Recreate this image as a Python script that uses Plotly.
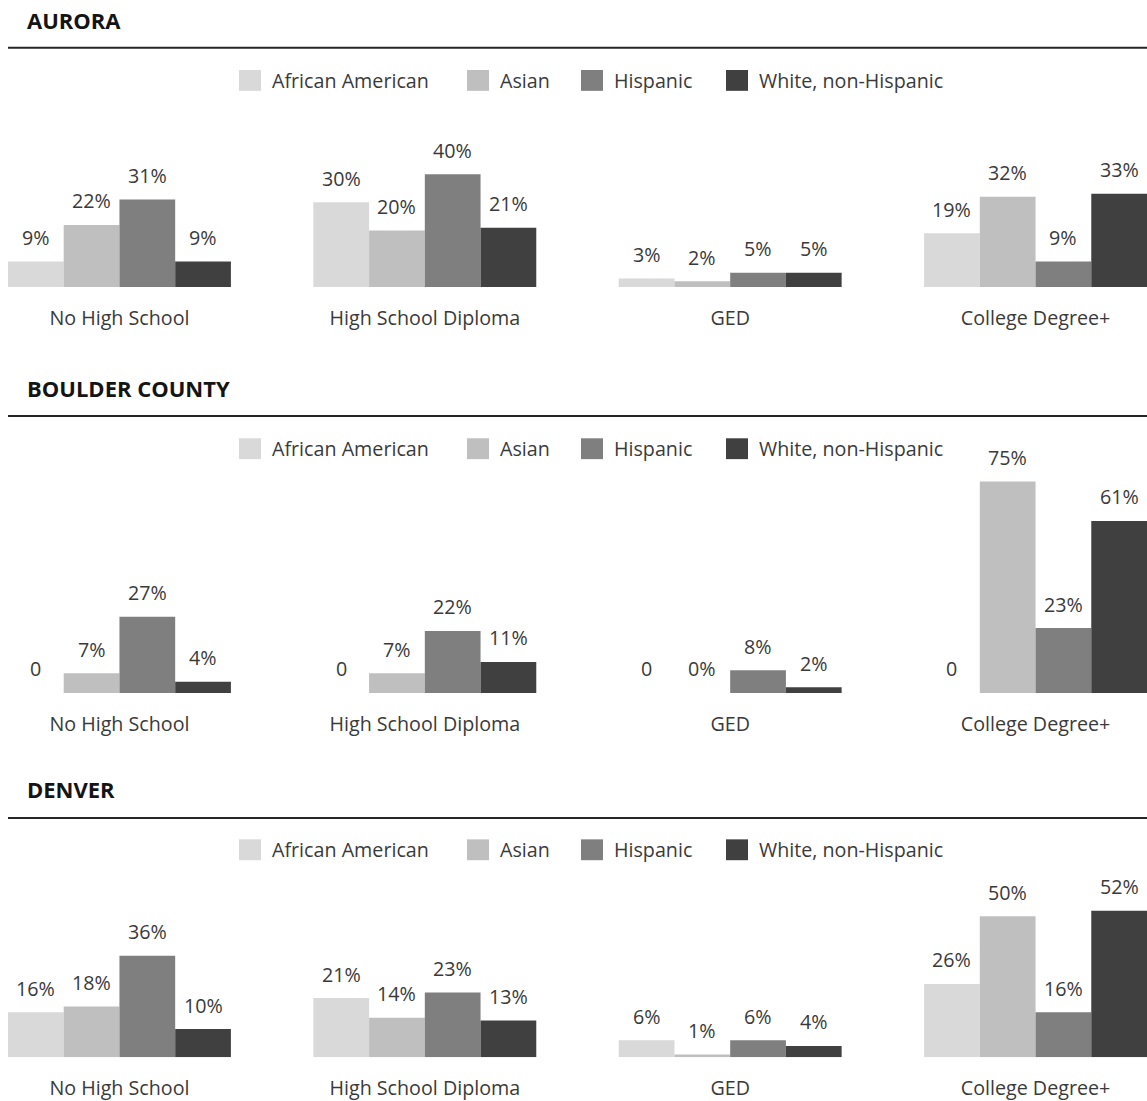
import plotly.graph_objects as go

W, H = 1147, 1101

categories = ["No High School", "High School Diploma", "GED", "College Degree+"]
groups = ["African American", "Asian", "Hispanic", "White, non-Hispanic"]
panel_titles = ["AURORA", "BOULDER COUNTY", "DENVER"]

aurora_african_american = [9, 30, 3, 19]
aurora_asian = [22, 20, 2, 32]
aurora_hispanic = [31, 40, 5, 9]
aurora_white = [9, 21, 5, 33]

# Boulder County has no African American figures; those are printed as "0"
boulder_african_american = [None, None, None, None]
boulder_asian = [7, 7, 0, 75]
boulder_hispanic = [27, 22, 8, 23]
boulder_white = [4, 11, 2, 61]

denver_african_american = [16, 21, 6, 26]
denver_asian = [18, 14, 1, 50]
denver_hispanic = [36, 23, 6, 16]
denver_white = [10, 13, 4, 52]

panels = [
    [aurora_african_american, aurora_asian, aurora_hispanic, aurora_white],
    [boulder_african_american, boulder_asian, boulder_hispanic, boulder_white],
    [denver_african_american, denver_asian, denver_hispanic, denver_white],
]

colors = ["#d9d9d9", "#bfbfbf", "#7f7f7f", "#404040"]
FONT = "Open Sans"
TEXT = "#3a3a3a"
FS = 19.7

# layout of each panel in pixels: title row, rule, legend row, bar baseline, y max
layout_px = [
    dict(title=20, rule=48, legend=81, base=289, ymax=55),
    dict(title=391, rule=419, legend=452, base=698, ymax=80),
    dict(title=795, rule=824, legend=856, base=1065, ymax=55),
]
PX_PER_UNIT = 2.84
LEFT = 8
BARGAP = 0.27
legend_x = [239, 467, 581, 726]
SQ_W, SQ_H = 22, 21


def py(p):
    return 1 - p / H


fig = go.Figure()
shapes = []
annotations = []
slot = (1 - BARGAP) / len(groups)

for p, (series, geo) in enumerate(zip(panels, layout_px)):
    ax = "" if p == 0 else str(p + 1)
    xref, yref = "x" + ax, "y" + ax
    for k, (name, vals) in enumerate(zip(groups, series)):
        fig.add_trace(go.Bar(
            x=categories,
            y=[v if v is not None else 0 for v in vals],
            name=name,
            marker=dict(color=colors[k], line=dict(width=0)),
            xaxis=xref, yaxis=yref,
            showlegend=False,
            hoverinfo="skip",
        ))
        for i, v in enumerate(vals):
            annotations.append(dict(
                x=i + (k - 1.5) * slot, y=v if v is not None else 0,
                xref=xref, yref=yref,
                text=f"{v}%" if v is not None else "0",
                showarrow=False, yshift=24, yanchor="middle",
                font=dict(family=FONT, size=FS, color=TEXT),
            ))

    top = geo["base"] - geo["ymax"] * PX_PER_UNIT
    fig.layout["xaxis" + ax] = dict(
        type="category", domain=[LEFT / W, 1], range=[-0.5 + BARGAP / 2, 3.5 - BARGAP / 2],
        anchor=yref, showgrid=False, zeroline=False, showline=False, ticks="",
        ticklabelstandoff=17,
        tickfont=dict(family=FONT, size=FS, color=TEXT), fixedrange=True,
    )
    fig.layout["yaxis" + ax] = dict(
        domain=[py(geo["base"]), py(top)], range=[0, geo["ymax"]],
        anchor=xref, visible=False, fixedrange=True,
    )

    # panel heading and rule
    annotations.append(dict(
        x=25 / W, y=py(geo["title"]), xref="paper", yref="paper",
        xanchor="left", yanchor="middle", showarrow=False,
        text=f"<b>{panel_titles[p]}</b>",
        font=dict(family=FONT, size=22, color="#141414"),
    ))
    shapes.append(dict(
        type="line", xref="paper", yref="paper",
        x0=LEFT / W, x1=1, y0=py(geo["rule"]), y1=py(geo["rule"]),
        line=dict(color="#262626", width=2),
    ))

    # legend row
    for k, name in enumerate(groups):
        x0 = legend_x[k]
        cy = geo["legend"]
        shapes.append(dict(
            type="rect", xref="paper", yref="paper",
            x0=x0 / W, x1=(x0 + SQ_W) / W, y0=py(cy + SQ_H / 2), y1=py(cy - SQ_H / 2),
            fillcolor=colors[k], line=dict(width=0),
        ))
        annotations.append(dict(
            x=(x0 + SQ_W + 9) / W, y=py(cy), xref="paper", yref="paper",
            xanchor="left", yanchor="middle", showarrow=False, text=name,
            font=dict(family=FONT, size=FS, color=TEXT),
        ))

fig.update_layout(
    width=W, height=H,
    margin=dict(l=0, r=0, t=0, b=0),
    barmode="group", bargap=BARGAP, bargroupgap=0,
    paper_bgcolor="white", plot_bgcolor="white",
    shapes=shapes, annotations=annotations,
    showlegend=False,
)

fig.write_html("out.html", config={"displayModeBar": False})
